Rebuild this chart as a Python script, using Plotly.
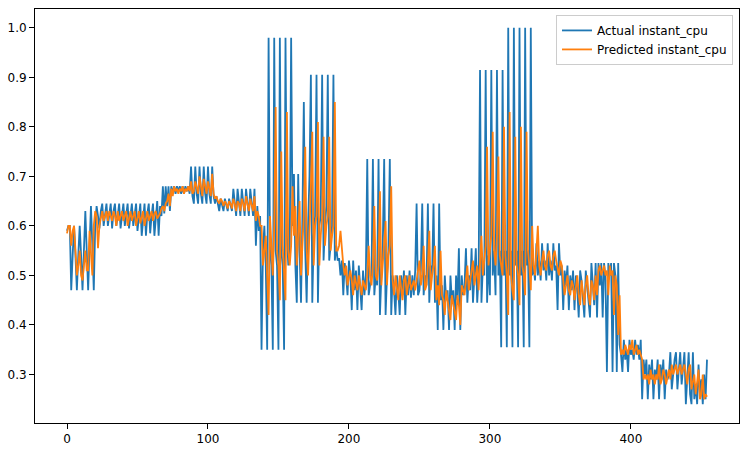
import plotly.graph_objects as go

actual_cpu = [
    0.59, 0.60, 0.60, 0.47, 0.54, 0.60, 0.54, 0.47, 0.54, 0.60,
    0.54, 0.47, 0.55, 0.63, 0.55, 0.47, 0.56, 0.64, 0.56, 0.47,
    0.60, 0.64, 0.62, 0.595, 0.63, 0.645, 0.60, 0.625, 0.645, 0.60,
    0.62, 0.645, 0.595, 0.63, 0.645, 0.60, 0.62, 0.645, 0.595, 0.625,
    0.645, 0.60, 0.63, 0.645, 0.595, 0.62, 0.645, 0.60, 0.625, 0.645,
    0.59, 0.62, 0.645, 0.58, 0.62, 0.645, 0.58, 0.625, 0.645, 0.585,
    0.62, 0.645, 0.58, 0.625, 0.65, 0.58, 0.64, 0.62, 0.68, 0.625,
    0.68, 0.64, 0.68, 0.63, 0.68, 0.665, 0.68, 0.665, 0.68, 0.67,
    0.68, 0.665, 0.68, 0.665, 0.68, 0.67, 0.68, 0.665, 0.72, 0.66,
    0.645, 0.72, 0.665, 0.645, 0.72, 0.665, 0.645, 0.72, 0.665, 0.645,
    0.72, 0.665, 0.645, 0.72, 0.66, 0.645, 0.66, 0.645, 0.63, 0.655,
    0.64, 0.63, 0.655, 0.645, 0.63, 0.655, 0.645, 0.63, 0.675, 0.64,
    0.62, 0.675, 0.64, 0.62, 0.675, 0.64, 0.62, 0.675, 0.645, 0.62,
    0.675, 0.64, 0.62, 0.675, 0.56, 0.64, 0.59, 0.62, 0.35, 0.55,
    0.60, 0.52, 0.35, 0.98, 0.55, 0.52, 0.35, 0.98, 0.55, 0.52,
    0.35, 0.98, 0.55, 0.52, 0.35, 0.98, 0.58, 0.52, 0.55, 0.98,
    0.60, 0.705, 0.52, 0.445, 0.705, 0.55, 0.445, 0.62, 0.85, 0.55,
    0.445, 0.60, 0.70, 0.905, 0.445, 0.58, 0.62, 0.905, 0.445, 0.60,
    0.62, 0.905, 0.53, 0.60, 0.64, 0.905, 0.53, 0.56, 0.60, 0.905,
    0.53, 0.56, 0.53, 0.535, 0.50, 0.53, 0.46, 0.525, 0.50, 0.46,
    0.53, 0.50, 0.43, 0.53, 0.47, 0.51, 0.43, 0.52, 0.47, 0.43,
    0.51, 0.46, 0.50, 0.735, 0.46, 0.48, 0.50, 0.735, 0.46, 0.50,
    0.48, 0.735, 0.42, 0.50, 0.56, 0.735, 0.42, 0.50, 0.55, 0.735,
    0.42, 0.50, 0.47, 0.42, 0.50, 0.47, 0.42, 0.50, 0.46, 0.51,
    0.42, 0.50, 0.46, 0.51, 0.455, 0.50, 0.46, 0.51, 0.645, 0.46,
    0.47, 0.51, 0.645, 0.46, 0.50, 0.48, 0.645, 0.445, 0.52, 0.50,
    0.645, 0.445, 0.50, 0.39, 0.645, 0.45, 0.48, 0.39, 0.50, 0.45,
    0.47, 0.39, 0.50, 0.45, 0.47, 0.39, 0.50, 0.45, 0.555, 0.39,
    0.50, 0.46, 0.48, 0.555, 0.445, 0.50, 0.47, 0.555, 0.445, 0.50,
    0.555, 0.445, 0.50, 0.915, 0.445, 0.52, 0.50, 0.915, 0.445, 0.54,
    0.46, 0.915, 0.50, 0.55, 0.46, 0.915, 0.50, 0.55, 0.355, 0.915,
    0.50, 0.55, 0.355, 1.0, 0.50, 0.55, 0.355, 1.0, 0.52, 0.55,
    0.355, 1.0, 0.50, 0.55, 0.355, 1.0, 0.52, 0.55, 0.355, 1.0,
    0.50, 0.52, 0.49, 0.565, 0.50, 0.53, 0.49, 0.565, 0.51, 0.53,
    0.49, 0.565, 0.50, 0.53, 0.49, 0.565, 0.51, 0.52, 0.43, 0.565,
    0.50, 0.52, 0.43, 0.51, 0.48, 0.52, 0.43, 0.50, 0.47, 0.51,
    0.43, 0.50, 0.47, 0.415, 0.51, 0.49, 0.44, 0.415, 0.51, 0.48,
    0.44, 0.415, 0.525, 0.47, 0.44, 0.525, 0.415, 0.525, 0.48, 0.525,
    0.415, 0.525, 0.49, 0.305, 0.525, 0.50, 0.525, 0.305, 0.525, 0.50,
    0.305, 0.525, 0.36, 0.34, 0.305, 0.37, 0.33, 0.35, 0.305, 0.37,
    0.34, 0.35, 0.33, 0.37, 0.34, 0.36, 0.33, 0.37, 0.25, 0.33,
    0.30, 0.33, 0.25, 0.32, 0.29, 0.33, 0.25, 0.31, 0.29, 0.33,
    0.25, 0.32, 0.29, 0.33, 0.25, 0.31, 0.29, 0.30, 0.345, 0.27,
    0.31, 0.33, 0.345, 0.27, 0.31, 0.345, 0.28, 0.32, 0.345, 0.24,
    0.30, 0.345, 0.26, 0.24, 0.345, 0.25, 0.28, 0.24, 0.32, 0.26,
    0.29, 0.24, 0.30, 0.25, 0.33,
]

predicted_cpu = [
    0.585, 0.60, 0.60, 0.56, 0.59, 0.60, 0.55, 0.50, 0.52, 0.55,
    0.50, 0.49, 0.52, 0.55, 0.51, 0.51, 0.59, 0.55, 0.50, 0.60,
    0.63, 0.62, 0.555, 0.60, 0.62, 0.63, 0.61, 0.62, 0.63, 0.61,
    0.63, 0.62, 0.61, 0.63, 0.62, 0.60, 0.63, 0.61, 0.62, 0.63,
    0.61, 0.62, 0.63, 0.60, 0.62, 0.63, 0.61, 0.62, 0.63, 0.60,
    0.615, 0.63, 0.605, 0.62, 0.63, 0.60, 0.62, 0.63, 0.61, 0.62,
    0.63, 0.61, 0.625, 0.63, 0.615, 0.62, 0.625, 0.635, 0.64, 0.63,
    0.645, 0.65, 0.665, 0.64, 0.675, 0.66, 0.68, 0.67, 0.675, 0.665,
    0.675, 0.67, 0.68, 0.665, 0.675, 0.67, 0.68, 0.67, 0.69, 0.665,
    0.67, 0.69, 0.68, 0.665, 0.70, 0.675, 0.66, 0.695, 0.68, 0.665,
    0.69, 0.67, 0.66, 0.705, 0.665, 0.655, 0.66, 0.65, 0.645, 0.655,
    0.65, 0.64, 0.65, 0.645, 0.635, 0.65, 0.645, 0.635, 0.655, 0.645,
    0.63, 0.65, 0.645, 0.63, 0.655, 0.645, 0.63, 0.66, 0.645, 0.63,
    0.655, 0.64, 0.63, 0.66, 0.61, 0.63, 0.62, 0.60, 0.60, 0.52,
    0.56, 0.58, 0.50, 0.42, 0.62, 0.55, 0.50, 0.60, 0.84, 0.55,
    0.52, 0.45, 0.75, 0.56, 0.50, 0.45, 0.83, 0.55, 0.52, 0.56,
    0.68, 0.58, 0.64, 0.52, 0.58, 0.65, 0.50, 0.56, 0.62, 0.76,
    0.55, 0.50, 0.62, 0.68, 0.79, 0.52, 0.60, 0.62, 0.81, 0.52,
    0.58, 0.62, 0.78, 0.56, 0.60, 0.62, 0.78, 0.55, 0.58, 0.60,
    0.85, 0.55, 0.55, 0.56, 0.59, 0.55, 0.52, 0.50, 0.52, 0.48,
    0.50, 0.51, 0.49, 0.46, 0.50, 0.48, 0.47, 0.50, 0.48, 0.46,
    0.49, 0.48, 0.47, 0.50, 0.56, 0.50, 0.48, 0.52, 0.64, 0.50,
    0.49, 0.52, 0.67, 0.48, 0.52, 0.55, 0.61, 0.48, 0.54, 0.56,
    0.68, 0.49, 0.46, 0.50, 0.47, 0.45, 0.50, 0.47, 0.45, 0.49,
    0.50, 0.46, 0.48, 0.50, 0.47, 0.48, 0.49, 0.47, 0.49, 0.50,
    0.53, 0.48, 0.50, 0.56, 0.47, 0.48, 0.52, 0.59, 0.47, 0.50,
    0.52, 0.56, 0.45, 0.48, 0.44, 0.55, 0.46, 0.45, 0.42, 0.47,
    0.45, 0.43, 0.41, 0.46, 0.44, 0.42, 0.41, 0.46, 0.44, 0.40,
    0.48, 0.47, 0.46, 0.49, 0.52, 0.47, 0.49, 0.50, 0.53, 0.48,
    0.50, 0.52, 0.47, 0.52, 0.58, 0.50, 0.53, 0.56, 0.76, 0.52,
    0.55, 0.58, 0.79, 0.55, 0.52, 0.58, 0.74, 0.54, 0.52, 0.50,
    0.80, 0.54, 0.50, 0.42, 0.83, 0.50, 0.47, 0.45, 0.78, 0.52,
    0.50, 0.44, 0.80, 0.52, 0.50, 0.46, 0.79, 0.55, 0.52, 0.47,
    0.60, 0.52, 0.50, 0.54, 0.60, 0.52, 0.50, 0.53, 0.55, 0.52,
    0.51, 0.54, 0.55, 0.52, 0.51, 0.54, 0.55, 0.53, 0.51, 0.50,
    0.53, 0.52, 0.49, 0.46, 0.48, 0.50, 0.47, 0.46, 0.49, 0.48,
    0.45, 0.48, 0.50, 0.46, 0.44, 0.49, 0.47, 0.44, 0.48, 0.50,
    0.46, 0.44, 0.49, 0.48, 0.45, 0.50, 0.46, 0.51, 0.52, 0.50,
    0.51, 0.52, 0.50, 0.51, 0.46, 0.52, 0.50, 0.51, 0.42, 0.50,
    0.48, 0.38, 0.46, 0.34, 0.35, 0.34, 0.36, 0.35, 0.34, 0.36,
    0.35, 0.37, 0.34, 0.35, 0.36, 0.34, 0.35, 0.34, 0.33, 0.29,
    0.30, 0.29, 0.30, 0.28, 0.31, 0.29, 0.30, 0.28, 0.30, 0.29,
    0.32, 0.28, 0.29, 0.31, 0.30, 0.28, 0.30, 0.31, 0.29, 0.32,
    0.30, 0.31, 0.32, 0.30, 0.31, 0.32, 0.30, 0.31, 0.32, 0.30,
    0.28, 0.31, 0.32, 0.27, 0.29, 0.30, 0.26, 0.28, 0.31, 0.25,
    0.26, 0.30, 0.25, 0.26, 0.255,
]

x_ticks = [0, 100, 200, 300, 400]
y_ticks = [0.3, 0.4, 0.5, 0.6, 0.7, 0.8, 0.9, 1.0]

fig = go.Figure()
fig.add_trace(go.Scatter(
    x=list(range(len(actual_cpu))), y=actual_cpu, mode="lines",
    name="Actual instant_cpu", line=dict(color="#1f77b4", width=1.8)))
fig.add_trace(go.Scatter(
    x=list(range(len(predicted_cpu))), y=predicted_cpu, mode="lines",
    name="Predicted instant_cpu", line=dict(color="#ff7f0e", width=1.8)))

axis_common = dict(
    showline=True, linecolor="black", linewidth=1, mirror=True,
    showgrid=False, zeroline=False, ticks="outside", ticklen=5,
    tickcolor="black", tickwidth=1,
    tickfont=dict(family="DejaVu Sans", size=12, color="black"),
)

fig.update_layout(
    width=748, height=454,
    margin=dict(l=34, r=8, t=8, b=25),
    paper_bgcolor="white", plot_bgcolor="white",
    font=dict(family="DejaVu Sans", size=12, color="black"),
    showlegend=True,
    legend=dict(
        x=0.9915, y=0.9857, xanchor="right", yanchor="top",
        bgcolor="rgba(255,255,255,0.8)", bordercolor="#cccccc", borderwidth=1,
        font=dict(family="DejaVu Sans", size=12, color="black"),
        itemwidth=30, tracegroupgap=2,
    ),
    xaxis=dict(range=[-22.7, 476.7], tickvals=x_ticks,
               ticktext=[str(v) for v in x_ticks], **axis_common),
    yaxis=dict(range=[0.202, 1.038], tickvals=y_ticks,
               ticktext=[f"{v:.1f}" for v in y_ticks], **axis_common),
)

fig.write_html("out.html")
